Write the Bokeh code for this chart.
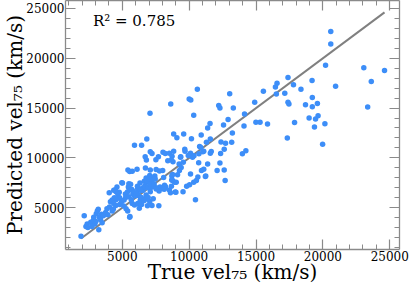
from bokeh.plotting import figure
from bokeh.models import LinearAxis, SingleIntervalTicker, CustomJSTickFormatter, Label, Range1d
from bokeh.embed import file_html
from bokeh.resources import INLINE

# True vs predicted vel75 (km/s)
true_vel = [
    7070, 8620, 10000, 10120, 10610, 10340, 12210, 12300, 13030, 13300, 11560, 12570, 12910,
    20590, 20590, 20200, 23060, 24610, 23620, 23350, 20950, 19190, 18360, 17390, 17800, 16570,
    16450, 15550, 16520, 17150, 14900, 14140, 17390, 17460, 19210, 18700, 19210, 19590, 19640,
    19450, 18970, 20150, 19370, 17880, 15860, 14990, 15300, 14100,
    13230, 13980, 14240, 17340, 19980,
    11380, 9590, 10900, 10170, 11580, 11290, 12380, 12720, 12620, 9670, 9690, 10780, 10870,
    11090, 10100, 10250, 10730, 11580, 12350, 9370, 9930, 12300,
    8840, 6830, 5910, 6440, 9080, 7090, 7220, 6710, 6800, 7510, 7700, 8040, 8210, 8520, 8720,
    8400, 8670, 8790, 9350, 9250, 9400,
    5420, 5550, 5740, 6100, 6730, 7090, 7530, 7780, 8020, 7050, 7430, 7340, 6780, 6640, 6830,
    7170, 7240, 8700, 8760, 8910, 8670, 8160, 7820, 7600, 7380, 6690, 6510, 6400, 6150, 5620,
    5010, 4600, 4480, 4770, 5520, 5740, 5380, 5230, 5910, 5790, 6220, 7120, 8040, 7750, 8960,
    9540, 9810, 10030, 10340, 10540, 10100, 10650, 10920, 11090, 11380, 11240, 12090,
    1910, 2150, 2280, 2370, 2420, 2640, 2730, 2830, 2950, 3020, 2860, 3050, 3200, 3270, 3240,
    3370, 3490, 3440, 3130, 3580, 3750, 3920, 3850, 4040, 4110, 4240, 4020, 4360, 4530, 4670,
    4960, 4800, 4400, 4550, 4360, 4510, 4800, 4940, 5110, 4240, 4330, 5280, 5400, 5550, 5130,
    5250, 5490, 5670, 5740, 5910, 6150, 6270, 6440, 5490, 5450, 5690, 5840, 6000, 6100, 6340,
    6420, 6640, 6780, 6880, 7050, 7220, 7310, 7730, 6540, 6710, 6900, 7070, 6320, 6130, 6830,
    7000, 7460, 7380, 7090, 7530,
    8840, 13180, 11020, 11650, 12620, 11210, 12690, 10470, 10360, 10710, 9560, 9270, 9130,
    8760, 8690, 8520, 8600, 9010, 9030, 8090, 8230, 8140, 6780, 6930, 5570, 6370,
]
pred_vel = [
    14470, 15400, 15920, 15820, 16880, 14280, 15270, 15000, 16450, 15000, 13440, 13290, 13840,
    22690, 21430, 19290, 19060, 18760, 17670, 15100, 17180, 17770, 16880, 18070, 17350, 17500,
    17110, 16680, 16420, 16480, 15590, 14410, 15590, 15400, 16060, 15330, 15130, 15460, 14240,
    13910, 14010, 13420, 13090, 13540, 13390, 13580, 13580, 13190,
    12490, 10420, 10710, 12000, 11370,
    12990, 12400, 12300, 11930, 11900, 11560, 11600, 11460, 10870, 10870, 10670, 11140, 11040,
    10670, 10470, 10050, 10420, 10470, 10450, 10120, 10250, 9480,
    12400, 11900, 11270, 11270, 12030, 10610, 10450, 10120, 9780, 9820, 10120, 10570, 10450,
    10470, 10150, 9720, 9780, 9620, 10050, 9390, 9030,
    8790, 8630, 8660, 8860, 8990, 8790, 8830, 8690, 8730, 8240, 8170, 7970, 7970, 7640, 7540,
    7740, 7480, 8170, 7740, 7540, 7150, 7250, 7080, 6980, 7110, 7210, 6980, 6750, 6910, 7350,
    7480, 7080, 6810, 6550, 6910, 6750, 6580, 6360, 6190, 6360, 6220, 7010, 6910, 6680, 6580,
    6610, 7150, 7310, 7540, 7740, 8370, 8070, 8730, 8860, 9390, 8170, 8730,
    2130, 4180, 3120, 3350, 3020, 3540, 3120, 3710, 3350, 3610, 4040, 4380, 4830, 4040, 2790,
    3780, 3490, 4340, 4670, 4180, 4510, 4280, 4900, 5070, 5590, 5760, 6510, 6750, 6610, 6320,
    7500, 5990, 5990, 5820, 5430, 5230, 5330, 5590, 5170, 4670, 4870, 4900, 4670, 4040, 5760,
    6020, 6090, 5790, 5430, 5270, 5430, 4930, 5330, 7410, 7080, 6850, 6580, 6190, 6510, 5760,
    6020, 5720, 5920, 5200, 5620, 5230, 5890, 5200, 6750, 7080, 7010, 7410, 7480, 7150, 7740,
    7870, 7870, 7380, 6610, 6880,
    10670, 11560, 10610, 10640, 8790, 8140, 7740, 5790, 10220, 9520, 9550, 8730, 8300,
    8340, 7770, 6780, 6510, 6550, 7540, 8040, 7110, 6850, 6260, 6020, 4110, 6750,
]
r2_text = "R² = 0.785"
x_label = "True vel₇₅ (km/s)"
y_label = "Predicted vel₇₅ (km/s)"

SERIF = "DejaVu Serif"
AXIS_GREY = "#8a8a8a"

p = figure(width=410, height=286, output_backend="svg", toolbar_location=None,
           x_range=Range1d(750, 25730), y_range=Range1d(800, 25800),
           x_axis_type=None, y_axis_type=None,
           min_border_left=0, min_border_right=11, min_border_top=0, min_border_bottom=0,
           background_fill_color="white", border_fill_color="white")
p.outline_line_color = None
p.xgrid.visible = False
p.ygrid.visible = False


def make_axis(labelled, label=None):
    ax = LinearAxis(ticker=SingleIntervalTicker(interval=5000, num_minor_ticks=5))
    ax.axis_line_color = AXIS_GREY
    ax.axis_line_width = 1.3
    ax.major_tick_line_color = AXIS_GREY
    ax.minor_tick_line_color = AXIS_GREY
    ax.major_tick_line_width = 1.2
    ax.minor_tick_line_width = 1.0
    ax.major_tick_in = 10
    ax.major_tick_out = 0
    ax.minor_tick_in = 5
    ax.minor_tick_out = 0
    if labelled:
        ax.major_label_text_font = SERIF
        ax.major_label_text_font_size = "12px"
        ax.major_label_text_color = "black"
        ax.major_label_standoff = 1
        ax.axis_label = label
        ax.axis_label_text_font = SERIF
        ax.axis_label_text_font_size = "20px"
        ax.axis_label_text_font_style = "normal"
        ax.axis_label_text_color = "black"
        ax.axis_label_standoff = -4
    else:
        ax.formatter = CustomJSTickFormatter(code="return ''")
        ax.major_label_standoff = 0
        ax.major_label_text_font_size = "1px"
    return ax


p.add_layout(make_axis(True, x_label), "below")
p.add_layout(make_axis(True, y_label), "left")
p.add_layout(make_axis(False), "above")
p.add_layout(make_axis(False), "right")

line_ends = [min(true_vel), max(true_vel)]
p.line(x=line_ends, y=line_ends, line_color="#808080", line_width=2)

p.scatter(x=true_vel, y=pred_vel, size=5.5, fill_color="#3d8ef8", line_color=None)

p.add_layout(Label(x=2800, y=24600, text=r2_text, text_font=SERIF,
                   text_font_size="15px", text_color="black", text_baseline="top"))

open("out.html", "w").write(file_html(p, INLINE))
